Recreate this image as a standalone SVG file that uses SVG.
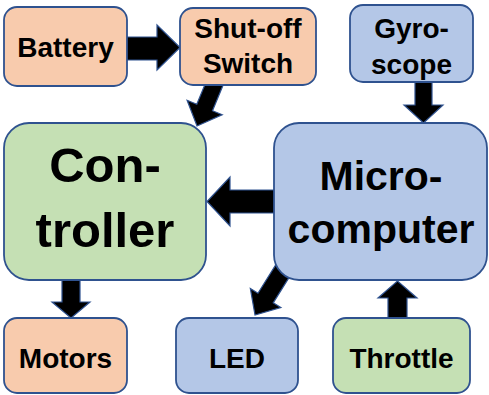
<svg xmlns="http://www.w3.org/2000/svg" width="489" height="395" viewBox="0 0 489 395">
<style>
.box{stroke:#2F528F;stroke-width:1.8}
.or{fill:#F8CBAD}.gr{fill:#C5E0B4}.bl{fill:#B4C7E7}
.arr{fill:#000;stroke:#2F528F;stroke-width:1.2;stroke-linejoin:miter}
text{font-family:"Liberation Sans",Arial,sans-serif;font-weight:bold;fill:#000;text-anchor:middle}
.s{font-size:28px}.lc{font-size:49px}.lm{font-size:41px}
</style>
<rect width="489" height="395" fill="#fff"/>
<g id="connectors">
<polygon class="arr" points="125,37 157,37 157,25 180,47.5 157,70 157,60 125,60"/>
<polygon class="arr" transform="translate(197,126) rotate(112.5)" points="-50,-8.5 -20,-8.5 -20,-19 0,0 -20,19 -20,8.5 -50,8.5"/>
<polygon class="arr" points="415,79 432,79 432,105 443,105 423.5,123 404,105 415,105"/>
<polygon class="arr" points="277,190 230,190 230,177 207,201.5 230,226 230,213 277,213"/>
<polygon class="arr" points="62,277 80,277 80,302 90,302 71,318 52,302 62,302"/>
<polygon class="arr" transform="translate(255,315) rotate(122)" points="-55,-9 -20,-9 -20,-18 0,0 -20,18 -20,9 -55,9"/>
<polygon class="arr" points="388,321 407,321 407,298 417,298 397.5,281 378,298 388,298"/>
</g>
<g id="battery"><rect class="box or" x="4" y="7" width="123" height="79" rx="13"/><text class="s" x="65.5" y="57">Battery</text></g>
<g id="shutoff"><rect class="box or" x="180" y="8" width="136" height="77" rx="13"/><text class="s" x="248" y="38">Shut-off</text><text class="s" x="248" y="73">Switch</text></g>
<g id="gyroscope"><rect class="box bl" x="350" y="5" width="123" height="77" rx="13"/><text class="s" x="411.5" y="38">Gyro-</text><text class="s" x="411.5" y="74">scope</text></g>
<g id="controller"><rect class="box gr" x="4" y="123" width="202" height="157" rx="25"/><text class="lc" x="105" y="182">Con-</text><text class="lc" x="105" y="247">troller</text></g>
<g id="microcomputer"><rect class="box bl" x="274" y="123" width="213" height="157" rx="25"/><text class="lm" x="381" y="190">Micro-</text><text class="lm" x="381" y="243">computer</text></g>
<g id="motors"><rect class="box or" x="4" y="318" width="123" height="75" rx="13"/><text class="s" x="65.5" y="368">Motors</text></g>
<g id="led"><rect class="box bl" x="176" y="318" width="122" height="75" rx="13"/><text class="s" x="237" y="368">LED</text></g>
<g id="throttle"><rect class="box gr" x="333" y="318" width="137" height="75" rx="13"/><text class="s" x="401.5" y="368">Throttle</text></g>
</svg>
